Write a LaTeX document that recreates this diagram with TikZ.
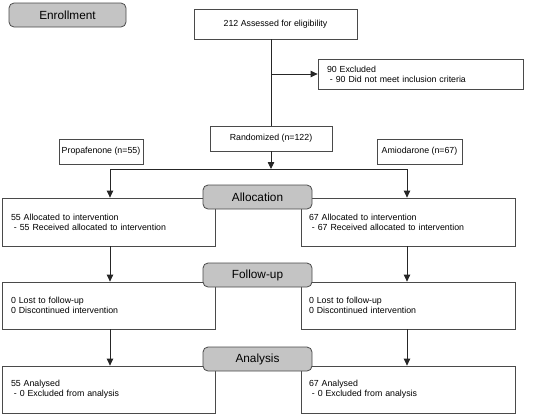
\documentclass[tikz,border=0pt]{standalone}
\usepackage{fontspec}
\setmainfont{Liberation Sans}
\usetikzlibrary{arrows.meta}
\definecolor{edge}{HTML}{4A4A4A}
\definecolor{labfill}{HTML}{C4C4C4}
\tikzset{
  box/.style={draw=edge, line width=0.8pt, fill=white, inner sep=0pt, font=\fontsize{8.8}{10}\selectfont},
  cbox/.style={box, align=center},
  lbox/.style={box, align=left, inner xsep=9pt},
  stage/.style={draw=edge, line width=0.8pt, fill=labfill, rounded corners=5pt, inner sep=0pt,
     minimum width=109pt, minimum height=24pt, font=\fontsize{11.8}{13}\selectfont},
  conn/.style={draw=black!85, line width=0.8pt},
  arr/.style={conn, -{Triangle[length=7pt,width=6.5pt]}},
}
\begin{document}
\begin{tikzpicture}[x=1pt,y=-1pt]
\useasboundingbox (0,0) rectangle (537,416);
\node[stage, minimum width=117pt] (enroll) at (67.5,15) {Enrollment};
\node[cbox, minimum width=163pt, minimum height=30pt] (assessed) at (275.5,24) {212 Assessed for eligibility};
\node[lbox, text width=187pt, minimum height=30pt] (excluded) at (420.5,74) {90 Excluded\\\ - 90 Did not meet inclusion criteria};
\node[cbox, minimum width=122pt, minimum height=25pt] (random) at (271,138.5) {Randomized (n=122)};
\node[cbox, minimum width=84pt, minimum height=25pt] (propa) at (101,151.5) {Propafenone (n=55)};
\node[cbox, minimum width=85pt, minimum height=25pt] (amio) at (419.5,151.5) {Amiodarone (n=67)};

\node[lbox, text width=195pt, minimum height=48pt] (allocL) at (108.5,222) {55 Allocated to intervention\\\ - 55 Received allocated to intervention};
\node[lbox, inner xsep=8pt, text width=198pt, minimum height=48pt] (allocR) at (408,222) {67 Allocated to intervention\\\ - 67 Received allocated to intervention};
\node[lbox, text width=195pt, minimum height=47pt] (followL) at (108.5,305.5) {0 Lost to follow-up\\0 Discontinued intervention};
\node[lbox, inner xsep=8pt, text width=198pt, minimum height=47pt] (followR) at (408,305.5) {0 Lost to follow-up\\0 Discontinued intervention};
\node[lbox, text width=195pt, minimum height=47pt] (analL) at (108.5,389.5) {55 Analysed\\\ - 0 Excluded from analysis};
\node[lbox, inner xsep=8pt, text width=198pt, minimum height=47pt] (analR) at (408,389.5) {67 Analysed\\\ - 0 Excluded from analysis};

\node[stage] (alloc) at (257.5,197) {Allocation};
\node[stage] (follow) at (257.5,275) {Follow-up};
\node[stage] (anal) at (257.5,359) {Analysis};

\coordinate (exsplit) at (271,74);
\coordinate (split) at (271,169);
\coordinate (sl) at (110,169);
\coordinate (sr) at (407,169);

\draw[conn] (assessed.south -| random.north) -- (random.north);
\draw[arr] (exsplit) -- (excluded.west);
\draw[arr] (random.south) -- (split);
\draw[conn] (sl) -- (sr);
\draw[arr] (sl) -- (sl |- allocL.north);
\draw[arr] (sr) -- (sr |- allocR.north);
\draw[arr] (sl |- allocL.south) -- (sl |- followL.north);
\draw[arr] (sr |- allocR.south) -- (sr |- followR.north);
\draw[arr] (sl |- followL.south) -- (sl |- analL.north);
\draw[arr] (sr |- followR.south) -- (sr |- analR.north);
\end{tikzpicture}
\end{document}
